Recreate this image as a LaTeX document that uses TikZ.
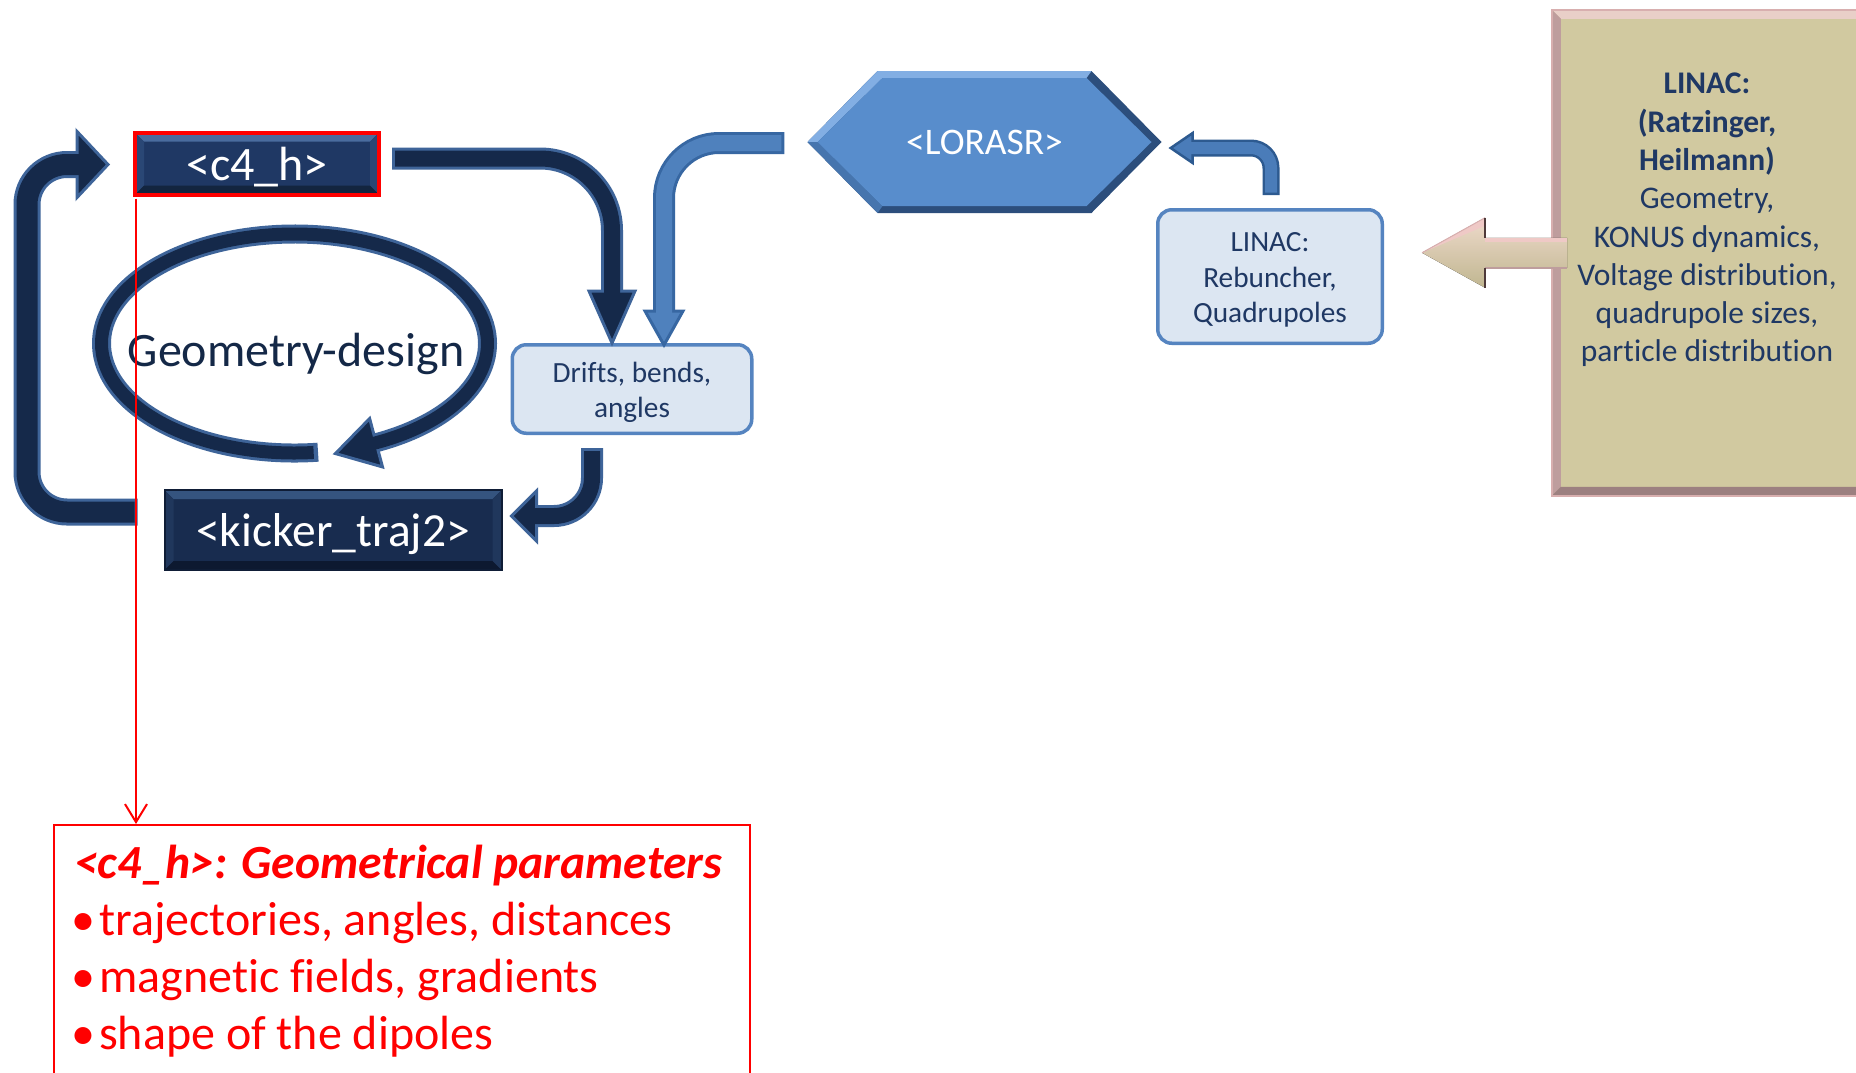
\documentclass[tikz,border=0pt]{standalone}
\usepackage{fontspec}
\setmainfont{Carlito}[Ligatures={NoCommon}]
\usetikzlibrary{calc,arrows.meta}

\definecolor{navyfill}{HTML}{15294A}
\definecolor{navyedge}{HTML}{3E6499}
\definecolor{cfill}{HTML}{1F3864}
\definecolor{ctop}{HTML}{4A6C9E}
\definecolor{cbot}{HTML}{13253F}
\definecolor{cside}{HTML}{2A4775}
\definecolor{kfill}{HTML}{182C4F}
\definecolor{ktop}{HTML}{35547F}
\definecolor{kbot}{HTML}{0D1930}
\definecolor{kside}{HTML}{20375C}
\definecolor{kedge}{HTML}{0F1D36}
\definecolor{geotext}{HTML}{142847}
\definecolor{bluefill}{HTML}{4F81BD}
\definecolor{blueedge}{HTML}{3767A2}
\definecolor{smallfill}{HTML}{4A7CB9}
\definecolor{smalledge}{HTML}{2D5A90}
\definecolor{hexfill}{HTML}{588DCC}
\definecolor{hexlight}{HTML}{82AEE3}
\definecolor{hexdark}{HTML}{2C4E7C}
\definecolor{hexmid}{HTML}{4675AE}
\definecolor{boxfill}{HTML}{DCE6F2}
\definecolor{boxedge}{HTML}{5584C0}
\definecolor{textnavy}{HTML}{1F3864}
\definecolor{tanfill}{HTML}{D1C9A0}
\definecolor{tantop}{HTML}{E9CFC8}
\definecolor{tanside}{HTML}{BE9D9D}
\definecolor{tanbot}{HTML}{9C8080}
\definecolor{tanedge}{HTML}{D8AFAF}
\definecolor{arrowtop}{HTML}{EEDACB}
\definecolor{arrowmid}{HTML}{EBE6C4}
\definecolor{arrowbot}{HTML}{C0B690}
\definecolor{arrowpink}{HTML}{EFC9C6}
\definecolor{arrowback}{HTML}{4E3A3A}
\definecolor{alarm}{HTML}{FF0000}

% triangular head of a block arrow: style, back centre, tip, half width
\newcommand\blockhead[4]{\filldraw[#1] ($(#2)!#4!90:(#3)$) -- (#3) -- ($(#2)!#4!-90:(#3)$) -- cycle;}

\tikzset{
  bevel/.style n args={4}{path picture={
    \fill[#1] (path picture bounding box.north west) -- (path picture bounding box.north east)
      -- ([xshift=-#4,yshift=-#4]path picture bounding box.north east)
      -- ([xshift=#4,yshift=-#4]path picture bounding box.north west) -- cycle;
    \fill[#3] (path picture bounding box.north west) -- ([xshift=#4,yshift=-#4]path picture bounding box.north west)
      -- ([xshift=#4,yshift=#4]path picture bounding box.south west) -- (path picture bounding box.south west) -- cycle;
    \fill[#3] (path picture bounding box.north east) -- ([xshift=-#4,yshift=-#4]path picture bounding box.north east)
      -- ([xshift=-#4,yshift=#4]path picture bounding box.south east) -- (path picture bounding box.south east) -- cycle;
    \fill[#2] (path picture bounding box.south west) -- (path picture bounding box.south east)
      -- ([xshift=-#4,yshift=#4]path picture bounding box.south east)
      -- ([xshift=#4,yshift=#4]path picture bounding box.south west) -- cycle;
  }},
  darkbox/.style={rectangle, inner sep=0pt, text=white, text depth=0pt},
  lbox/.style={rectangle, rounded corners=14pt, draw=boxedge, line width=3.5pt, fill=boxfill, inner sep=0pt},
  lboxtext/.style={text=textnavy, align=center, font=\fontsize{29.3}{35.5}\selectfont, inner sep=0pt},
  navyout/.style={draw=navyedge, line width=22pt},
  navyin/.style={draw=navyfill, line width=16pt, shorten >=-3pt, shorten <=3pt},
  navyhead/.style={fill=navyfill, draw=navyedge, line width=3pt, line join=miter},
  blueout/.style={draw=blueedge, line width=22pt},
  bluein/.style={draw=bluefill, line width=16pt, shorten >=-3pt, shorten <=3pt},
  bluehead/.style={fill=bluefill, draw=blueedge, line width=3pt, line join=miter},
  smallout/.style={draw=smalledge, line width=17pt},
  smallin/.style={draw=smallfill, line width=12pt, shorten >=-3pt, shorten <=2.5pt},
  smallhead/.style={fill=smallfill, draw=smalledge, line width=2.5pt, line join=miter},
  redtext/.style={anchor=base west, inner sep=0pt, text=alarm, font=\fontsize{48}{57}\selectfont},
}

\begin{document}
\begin{tikzpicture}[x=1pt,y=-1pt]
\useasboundingbox (0,0) rectangle (1856,1072);
\clip (0,0) rectangle (1856,1072);
\fill[white] (0,0) rectangle (1856,1072);

% ---------- LINAC source box (right) ----------
\node[anchor=north west, minimum width=320, minimum height=486, inner sep=0pt, fill=tanfill,
      draw=tanedge, line width=1.5pt, bevel={tantop}{tanbot}{tanside}{9pt}] (tanbox) at (1551,9) {};
\node[anchor=north, inner sep=0pt, align=center, text=textnavy,
      font=\fontsize{31.5}{38.3}\selectfont] (tantext) at (1707,73)
  {\textbf{LINAC:}\\\textbf{(Ratzinger,}\\\textbf{Heilmann)}\\Geometry,\\KONUS dynamics,\\Voltage distribution,\\quadrupole sizes,\\particle distribution};

% arrow leaving the LINAC source box
\coordinate (gT) at ($(tanbox.west)+(-129,0)$);
\fill[top color=arrowtop, middle color=arrowmid, bottom color=arrowbot]
  (gT) -- ++(63,-35) -- ++(0,20) -- ++(82,0) -- ++(0,30) -- ++(-82,0) -- ++(0,20) -- cycle;
\fill[arrowpink] (gT) -- ++(63,-35) -- ++(0,8) -- cycle;
\draw[tanedge, line width=1pt] (gT) -- ++(63,-35);
\draw[arrowpink, line width=4pt] ($(gT)+(63,-13)$) -- ++(82,0);
\draw[tanside, line width=1.5pt] ($(gT)+(63,15)$) -- ++(82,0);
\draw[arrowback, line width=2.5pt] ($(gT)+(63,-35)$) -- ++(0,20);
\draw[arrowback, line width=2.5pt] ($(gT)+(63,15)$) -- ++(0,20);

% ---------- LORASR hexagon ----------
\begin{scope}[shift={(984.5,142)}]
  \fill[hexdark] (-177,0) -- (-107,-71) -- (107,-71) -- (177,0) -- (107,71) -- (-107,71) -- cycle;
  \fill[hexlight] (-177,0) -- (-107,-71) -- (107,-71) -- (102,-64) -- (-102,-64) -- (-167,0) -- cycle;
  \fill[hexmid] (-177,0) -- (-167,0) -- (-102,64) -- (-107,71) -- cycle;
  \fill[hexfill] (-167,0) -- (-102,-64) -- (102,-64) -- (167,0) -- (102,64) -- (-102,64) -- cycle;
\end{scope}
\node[inner sep=0pt, minimum width=354, minimum height=142, text=white,
      font=\fontsize{37.5}{45}\selectfont] (lorasr) at (984.5,142) {<LORASR>};

% ---------- light boxes ----------
\node[lbox, minimum width=224.5, minimum height=133.5] (linac) at (1270,276.5) {};
\node[lboxtext] (linactext) at ($(linac.center)+(0,3.5)$) {LINAC:\\Rebuncher,\\Quadrupoles};
\node[lbox, minimum width=239.5, minimum height=88.5] (drifts) at (632,389) {};
\node[lboxtext] (driftstext) at ($(drifts.center)+(0,3.5)$) {Drifts, bends,\\angles};

% ---------- dark boxes ----------
\node[darkbox, fill=cfill, draw=alarm, line width=4pt, minimum width=244, minimum height=62,
      font=\fontsize{48}{57}\selectfont, bevel={ctop}{cbot}{cside}{9pt}] (c4h) at (257,163.5) {<c4\_h>};
\node[darkbox, fill=kfill, draw=kedge, line width=2pt, minimum width=337, minimum height=80,
      font=\fontsize{47.5}{57}\selectfont, bevel={ktop}{kbot}{kside}{9pt}] (kicker) at (333,530) {<kicker\_traj2>};

% ---------- LINAC box -> LORASR ----------
\coordinate (fS) at ($(linac.north)+(1,-13)$);
\coordinate (fT) at ($(lorasr.east)+(9,6)$);
\coordinate (fB) at ($(fT)+(22,0)$);
\draw[smallout, rounded corners=20pt] (fS) |- (fB);
\blockhead{smallhead}{fB}{fT}{15pt}
\draw[smallin, rounded corners=20pt] (fS) |- (fB);

% ---------- c4_h -> Drifts ----------
\coordinate (aS) at ($(c4h.east)+(11,-5)$);
\coordinate (aT) at ($(drifts.north)+(-20,0)$);
\coordinate (aB) at ($(aT)+(0,-52)$);
\draw[navyout, rounded corners=72pt] (aS) -| (aB);
\blockhead{navyhead}{aB}{aT}{23pt}
\draw[navyin, rounded corners=72pt] (aS) -| (aB);

% ---------- LORASR -> Drifts ----------
\coordinate (bS) at ($(lorasr.west)+(-23,1)$);
\coordinate (bT) at ($(drifts.north)+(32,2)$);
\coordinate (bB) at ($(bT)+(0,-34)$);
\draw[blueout, rounded corners=55pt] (bS) -| (bB);
\blockhead{bluehead}{bB}{bT}{19pt}
\draw[bluein, rounded corners=55pt] (bS) -| (bB);

% ---------- Drifts -> kicker_traj2 ----------
\coordinate (cS) at ($(drifts.south)+(-40,13)$);
\coordinate (cT) at ($(kicker.east)+(9,-14)$);
\coordinate (cB) at ($(cT)+(25,0)$);
\draw[navyout, rounded corners=38pt] (cS) |- (cB);
\blockhead{navyhead}{cB}{cT}{25pt}
\draw[navyin, rounded corners=38pt] (cS) |- (cB);

% ---------- kicker_traj2 -> c4_h (outer loop) ----------
\coordinate (dS) at ($(kicker.west)+(-26,-18)$);
\coordinate (dT) at ($(c4h.west)+(-25,1)$);
\coordinate (dB) at ($(dT)+(-31,0)$);
\draw[navyout, line width=27pt, rounded corners=40pt] (dS) -| ($(dB)+(-50,0)$) -- (dB);
\blockhead{navyhead}{dB}{dT}{33pt}
\draw[navyin, line width=21pt, rounded corners=40pt] (dS) -| ($(dB)+(-50,0)$) -- (dB);

% ---------- Geometry-design cycle ----------
\coordinate (ring) at (294.5,343.5);
\draw[navyedge, line width=19pt] (ring) ++(83:193 and 109.5)
  arc[start angle=83, end angle=425, x radius=193, y radius=109.5];
\path (ring) ++(65:193 and 109.5) coordinate (eB);
\coordinate (eT) at ($(eB)+(-40.6,10.8)$);
\blockhead{navyhead}{eB}{eT}{25pt}
\draw[navyfill, line width=13pt] (ring) ++(84.3:193 and 109.5)
  arc[start angle=84.3, end angle=426, x radius=193, y radius=109.5];
\node[anchor=base, inner sep=0pt, text=geotext, font=\fontsize{48}{57}\selectfont] (geo) at (296,366) {Geometry-design};

% ---------- parameter box ----------
\node[draw=alarm, line width=2pt, anchor=north west, minimum width=696, minimum height=320,
      inner sep=0pt] (params) at (53,824) {};
\node[redtext, font=\fontsize{47.6}{57}\selectfont\bfseries\itshape] (ptitle) at (74,878)
  {<c4\_h>: Geometrical parameters};
\node[redtext] (pone) at (71,935) {\makebox[28pt][l]{\textbullet}trajectories, angles, distances};
\node[redtext] (ptwo) at (71,992) {\makebox[28pt][l]{\textbullet}magnetic fields, gradients};
\node[redtext] (pthree) at (71,1049) {\makebox[28pt][l]{\textbullet}shape of the dipoles};

\coordinate (rS) at ($(c4h.south west)+(3,2)$);
\draw[alarm, line width=2pt, -{Straight Barb[length=18pt,width=22pt]}] (rS) -- (rS |- params.north);
\end{tikzpicture}
\end{document}
